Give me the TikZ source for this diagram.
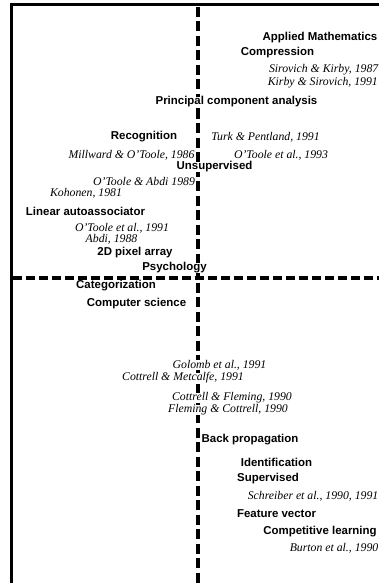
\documentclass[tikz,border=0pt]{standalone}
\usepackage{fontspec}
\setmainfont{Liberation Serif}
\setsansfont{Liberation Sans}
\usepackage{tikz}
\usetikzlibrary{calc}

\begin{document}
\begin{tikzpicture}[x=1bp, y=-1bp,
  term/.style={inner sep=0pt, fill=white, font=\sffamily\bfseries\fontsize{11.5}{12}\selectfont},
  ref/.style={inner sep=0pt, fill=white, font=\itshape\fontsize{11.8}{13}\selectfont},
  frame/.style={line width=3bp, line join=miter},
  axis/.style={line width=3.5bp, dash pattern=on 9bp off 4bp}]
\useasboundingbox (0,0) rectangle (379,583);
% axes
\coordinate (frameBottom) at (11,583);
\coordinate (frameCorner) at (11,5);
\coordinate (frameRight) at (379,5);
\coordinate (vTop) at (198,7);
\coordinate (vBottom) at (198,583);
\coordinate (hLeft) at (12.5,278);
\coordinate (hRight) at (379,278);
\draw[frame] (frameBottom) -- (frameCorner) -- (frameRight);
\draw[axis, dash pattern=on 10bp off 4.5bp] (vTop) -- (vBottom);
\draw[axis] (hLeft) -- (hRight);
% upper half
\node[term] (appliedMath) at (320,38) {Applied Mathematics};
\node[term] (compression) at (277.5,53) {Compression};
\node[ref, anchor=east] (sirovich) at (378.5,70) {Sirovich \& Kirby, 1987};
\node[ref, anchor=east] (kirby) at (378,83) {Kirby \& Sirovich, 1991};
\node[term] (pca) at (236.5,102) {Principal component analysis};
\node[term] (recognition) at (144,137) {Recognition};
\node[ref] (turk) at (265.5,137) {Turk \& Pentland, 1991};
\node[ref] (millward) at (131.5,155) {Millward \& O'Toole, 1986};
\node[ref] (otoole93) at (281,155) {O'Toole et al., 1993};
\node[term] (unsupervised) at (214.5,167) {Unsupervised};
\node[ref] (otooleAbdi) at (144,181) {O'Toole \& Abdi 1989};
\node[ref] (kohonen) at (86,193) {Kohonen, 1981};
\node[term] (linear) at (85.5,211) {Linear autoassociator};
\node[ref] (otoole91) at (122,228) {O'Toole et al., 1991};
\node[ref] (abdi) at (111.5,239) {Abdi, 1988};
\node[term] (pixel) at (135,253) {2D pixel array};
\node[term] (psychology) at (174.5,268) {Psychology};
% lower half
\node[term] (categorization) at (116,286) {Categorization};
\node[term] (compsci) at (136.5,304) {Computer science};
\node[ref] (golomb) at (219.5,365) {Golomb et al., 1991};
\node[ref] (cottrellMet) at (183,378) {Cottrell \& Metcalfe, 1991};
\node[ref] (cottrellFle) at (232,398) {Cottrell \& Fleming, 1990};
\node[ref] (fleming) at (228,410) {Fleming \& Cottrell, 1990};
\node[term] (backprop) at (250,440) {Back propagation};
\node[term] (identification) at (276.5,462) {Identification};
\node[term] (supervised) at (268,479) {Supervised};
\node[ref, anchor=east] (schreiber) at (378.5,496) {Schreiber et al., 1990, 1991};
\node[term] (feature) at (276.5,514) {Feature vector};
\node[term] (competitive) at (320,532) {Competitive learning};
\node[ref, anchor=east] (burton) at (378.5,548) {Burton et al., 1990};
\end{tikzpicture}
\end{document}
